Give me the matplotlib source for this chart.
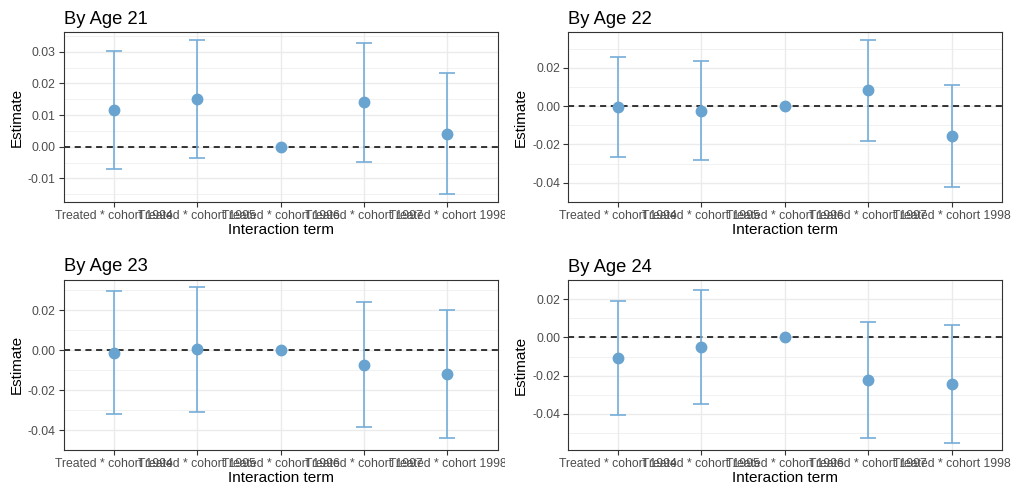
import numpy as np
import matplotlib
matplotlib.use("Agg")
import matplotlib.pyplot as plt
from matplotlib.transforms import Bbox

plt.rcParams['font.family'] = ['Liberation Sans', 'DejaVu Sans']

# data
terms = ["Treated * cohort 1994", "Treated * cohort 1995", "Treated * cohort 1996",
         "Treated * cohort 1997", "Treated * cohort 1998"]
titles = ["By Age 21", "By Age 22", "By Age 23", "By Age 24"]

est_21 = [0.0116, 0.0150, 0.0, 0.0142, 0.0041]
lo_21 = [-0.0069, -0.0035, np.nan, -0.0048, -0.0150]
hi_21 = [0.0301, 0.0337, np.nan, 0.0328, 0.0232]

est_22 = [-0.0003, -0.0025, 0.0, 0.0084, -0.0157]
lo_22 = [-0.0264, -0.0283, np.nan, -0.0180, -0.0423]
hi_22 = [0.0255, 0.0237, np.nan, 0.0346, 0.0112]

est_23 = [-0.0013, 0.0005, 0.0, -0.0074, -0.0121]
lo_23 = [-0.0321, -0.0308, np.nan, -0.0385, -0.0440]
hi_23 = [0.0298, 0.0316, np.nan, 0.0243, 0.0199]

est_24 = [-0.0106, -0.0048, 0.0, -0.0221, -0.0242]
lo_24 = [-0.0404, -0.0346, np.nan, -0.0524, -0.0550]
hi_24 = [0.0190, 0.0250, np.nan, 0.0079, 0.0063]

ticks_21 = [-0.01, 0.00, 0.01, 0.02, 0.03]
ticks_22 = [-0.04, -0.02, 0.00, 0.02]
ticks_23 = [-0.04, -0.02, 0.00, 0.02]
ticks_24 = [-0.04, -0.02, 0.00, 0.02]

panels = [
    (titles[0], est_21, lo_21, hi_21, ticks_21),
    (titles[1], est_22, lo_22, hi_22, ticks_22),
    (titles[2], est_23, lo_23, hi_23, ticks_23),
    (titles[3], est_24, lo_24, hi_24, ticks_24),
]

W, H = 1014, 491
fig = plt.figure(figsize=(W / 100, H / 100), dpi=100)

# panel boxes in pixels: left, top, right, bottom
boxes = [(63.5, 32.3, 497.5, 202), (567.7, 32.3, 1001.7, 202),
         (63.5, 279.5, 497.5, 450.3), (567.7, 280, 1001.7, 450.3)]
# facet cells (pixels): left, bottom, right, top  -> tick labels get clipped here
cells = [(0, 245, 505, 0), (505, 245, 1014, 0), (0, 491, 505, 245), (505, 491, 1014, 245)]

pt_col = "#69A3D0"
bar_col = "#74ADD8"
grid_col = "#EBEBEB"

for (title, est, lo, hi, yt), (l, t, r, b), cell in zip(panels, boxes, cells):
    ax = fig.add_axes([l / W, 1 - b / H, (r - l) / W, (b - t) / H])
    x = np.arange(1, len(terms) + 1)
    est = np.array(est)
    lo = np.array(lo)
    hi = np.array(hi)

    ax.axhline(0, color="black", ls=(0, (4, 3)), lw=1.1, zorder=2)
    ok = ~np.isnan(lo)
    ax.errorbar(x[ok], est[ok], yerr=[est[ok] - lo[ok], hi[ok] - est[ok]], fmt="none",
                ecolor=bar_col, elinewidth=1.2, capsize=5.8, capthick=1.2, zorder=3)
    ax.plot(x, est, "o", color=pt_col, ms=7.5, mec=pt_col, zorder=4)

    vals = np.concatenate([est, lo[ok], hi[ok]])
    vmin, vmax = vals.min(), vals.max()
    pad = (vmax - vmin) * 0.05
    ax.set_ylim(vmin - pad, vmax + pad)
    ax.set_xlim(0.4, len(terms) + 0.6)

    ax.set_yticks(yt)
    ax.set_yticklabels([f"{v:.2f}" for v in yt])
    step = yt[1] - yt[0]
    minor = [v + step / 2 for v in yt] + [yt[0] - step / 2]
    ax.set_yticks(minor, minor=True)
    ax.tick_params(axis="y", which="minor", length=0)
    ax.set_xticks(x)
    ax.set_xticklabels(terms)

    ax.grid(True, which="major", color=grid_col, lw=1.0, zorder=0)
    ax.grid(True, which="minor", axis="y", color=grid_col, lw=0.5, zorder=0)
    ax.set_axisbelow(True)

    for s in ax.spines.values():
        s.set_color("#333333")
        s.set_linewidth(0.8)
    ax.tick_params(which="major", length=3.5, width=0.8, color="#333333",
                   labelsize=8.8, labelcolor="#4D4D4D", pad=2)

    ax.set_xlabel("Interaction term", fontsize=11, labelpad=1)
    ax.set_ylabel("Estimate", fontsize=11, labelpad=3)
    ax.set_title(title, fontsize=13.2, loc="left", pad=6)

    clip = Bbox.from_extents(cell[0], H - cell[1], cell[2], H - cell[3])
    for lab in ax.get_xticklabels():
        lab.set_clip_on(True)
        lab.set_clip_box(clip)

fig.savefig("out.png", dpi=100)
